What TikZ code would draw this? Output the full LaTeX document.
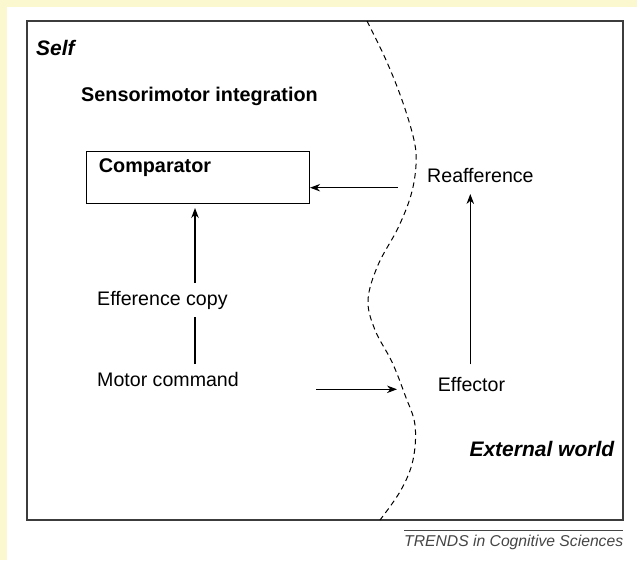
\documentclass[tikz,border=0pt]{standalone}
\usepackage{fontspec}
\setmainfont{Liberation Sans}
\usetikzlibrary{arrows.meta}
\definecolor{bgyellow}{RGB}{251,247,206}
\definecolor{frame}{RGB}{60,60,60}
\definecolor{trendgray}{RGB}{70,70,70}
\tikzset{
  lbl/.style={anchor=base west, inner sep=0pt, font=\fontsize{19.6}{23}\selectfont},
  bld/.style={anchor=base west, inner sep=0pt, font=\fontsize{19.8}{23}\selectfont\bfseries},
  bit/.style={anchor=base west, inner sep=0pt, font=\fontsize{21}{24}\selectfont\bfseries\itshape},
  arr/.style={draw=black, line width=1.1pt, -{Stealth[length=10pt,width=7.5pt]}},
  plain/.style={draw=black, line width=1.1pt},
  border/.style={draw=frame, line width=1.3pt},
}
\begin{document}
\begin{tikzpicture}[x=1pt,y=-1pt]
\useasboundingbox (0,0) rectangle (637,560);
\fill[bgyellow] (0,0) rectangle (637,560);
\fill[white] (7,7) rectangle (637,560);
\draw[border] (27,21) rectangle (623,520);

% dashed boundary
\draw[black, line width=1pt, dash pattern=on 5.5pt off 4pt]
  plot[smooth, tension=0.6] coordinates {(367,21) (386,60) (402,100) (414,140) (416,165) (411,195) (398,228) (378,265) (368,300) (375,330) (392,362) (405,395) (415,425) (413,460) (401,490) (380,520)};

% texts
\node[bit] (self) at (36,55) {Self};
\node[bld] (sensi) at (81,101.7) {Sensorimotor integration};
\node[draw=black, line width=1.1pt, minimum width=223pt, minimum height=52pt, anchor=north west, inner sep=0pt] (cmp) at (86,151) {};
\node[bld] (cmptxt) at (98.7,172) {Comparator};
\node[lbl] (reaff) at (427,182.7) {Reafference};
\node[lbl] (ec) at (97,305.7) {Efference copy};
\node[lbl] (motor) at (97,386) {Motor command};
\node[lbl] (eff) at (437.7,391) {Effector};
\node[bit] (ext) at (469.3,456) {External world};

% connector endpoints
\coordinate (raS) at (397.7,187.7);
\coordinate (ecS) at (195,283);
\coordinate (ecT) at (195,208);
\coordinate (mcT) at (195,317);
\coordinate (mcS) at (195,364);
\coordinate (mS) at (316,389.3);
\coordinate (mT) at (397,389.3);
\coordinate (eS) at (470.3,364.3);
\coordinate (eT) at (470.3,194);

\draw[arr] (raS) -- (cmp.east |- raS);
\draw[arr] (ecS) -- (ecT);
\draw[plain] (mcS) -- (mcT);
\draw[arr] (mS) -- (mT);
\draw[arr] (eS) -- (eT);

% footer
\coordinate (ruleL) at (404,530.7);
\coordinate (ruleR) at (623,530.7);
\draw[trendgray, line width=0.8pt] (ruleL) -- (ruleR);
\node[anchor=base west, inner sep=0pt, text=trendgray, font=\fontsize{15.7}{18}\selectfont\itshape] (trends) at (404,546.7) {TRENDS in Cognitive Sciences};
\end{tikzpicture}
\end{document}
